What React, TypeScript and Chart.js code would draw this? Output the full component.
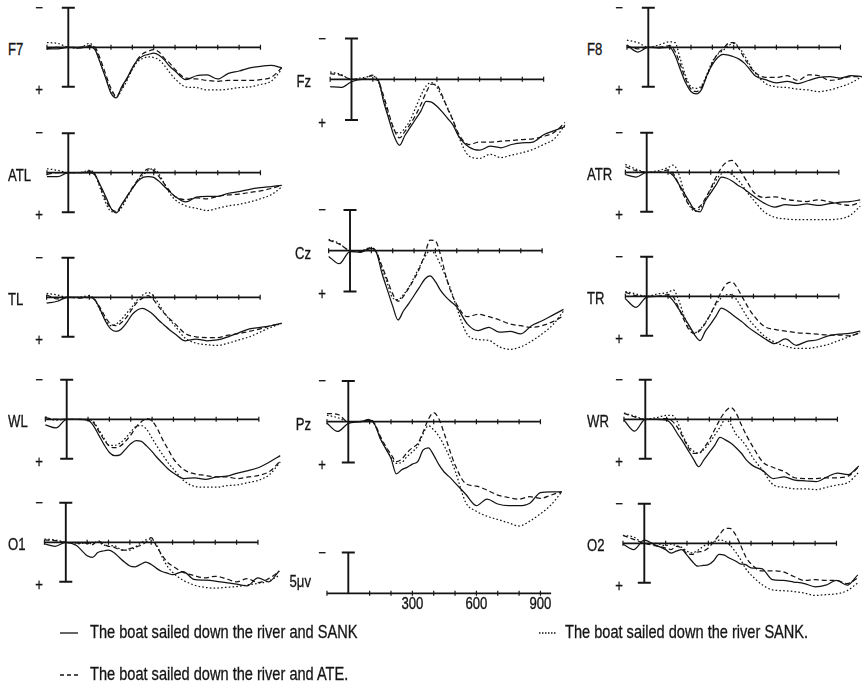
import { useEffect, useRef } from "react";
import { Chart, registerables } from "chart.js";

Chart.register(...registerables);

// Sample times (ms after word onset); denser around the early components.
const TIMES_MS = [
  -100, -50, 0, 50, 100, 125, 150, 175, 200, 225, 250, 275, 300, 325, 350, 375, 400, 425, 450, 475, 500,
  550, 600, 650, 700, 750, 800, 850, 900, 950, 1000,
];

// Axis ticks (ms) and the labelled ticks under the calibration axis.
const AXIS_TICKS_MS = [-100, 100, 200, 300, 400, 500, 600, 700, 800, 900];
const SCALE_TICK_LABELS = [300, 600, 900];
const CAL_BAR_UV = 5;

const SERIES_LABELS = [
  "The boat sailed down the river and SANK",
  "The boat sailed down the river and ATE.",
  "The boat sailed down the river SANK.",
];

// Amplitudes in µV (positive plotted downward), one value per entry of TIMES_MS.
// Left hemisphere
const F7_AND_SANK = [0.2, 0.2, 0, 0.1, -0.1, 0.3, 2.0, 3.9, 5.8, 6.4, 5.0, 3.9, 2.6, 1.6, 1.1, 0.9, 0.75, 1.0, 1.6, 2.4, 3.0, 4.1, 3.6, 3.5, 4.0, 3.3, 3.0, 2.6, 2.4, 2.3, 2.6];
const F7_AND_ATE = [0.2, 0.0, 0, 0, -0.2, 0.0, 1.5, 3.4, 5.2, 6.2, 5.2, 4.0, 2.7, 1.5, 0.8, 0.5, 0.3, 0.6, 1.4, 2.0, 2.8, 3.9, 4.0, 4.2, 4.3, 4.2, 4.2, 4.2, 4.1, 3.8, 2.6];
const F7_SANK = [-0.6, -0.5, 0, 0.1, -0.5, 0.2, 2.0, 3.8, 5.5, 6.3, 5.4, 4.2, 2.8, 1.8, 1.4, 1.2, 1.3, 1.6, 2.3, 3.2, 4.0, 5.0, 5.1, 5.4, 5.4, 5.3, 5.1, 5.0, 4.7, 4.3, 2.8];

const ATL_AND_SANK = [0.5, 0.5, 0, 0, 0, 0.3, 1.6, 3.0, 4.5, 5.1, 4.0, 3.0, 2.0, 1.1, 0.6, 0.5, 0.6, 1.1, 1.75, 2.4, 3.0, 3.7, 3.1, 3.0, 3.0, 2.6, 2.4, 2.1, 1.9, 1.75, 1.6];
const ATL_AND_ATE = [0.2, 0.0, 0, 0, -0.2, 0.2, 1.8, 3.4, 4.6, 4.9, 4.1, 3.0, 1.9, 0.9, 0.0, -0.5, -0.3, 0.5, 1.4, 2.3, 3.0, 3.4, 3.2, 3.3, 3.0, 2.8, 2.7, 2.5, 2.3, 2.0, 1.6];
const ATL_SANK = [-0.5, -0.3, 0, 0, -0.3, 0.2, 2.0, 3.8, 4.9, 5.0, 4.4, 3.2, 2.0, 1.0, 0.3, -0.3, -0.5, 0.2, 1.4, 2.6, 3.4, 4.2, 4.5, 4.8, 4.5, 4.2, 4.0, 3.7, 3.3, 2.8, 1.8];

const TL_AND_SANK = [0.75, 0.5, 0, 0, 0, 0.3, 1.5, 3.0, 4.0, 4.3, 4.0, 3.2, 2.2, 1.6, 1.4, 1.7, 2.2, 2.9, 3.5, 4.1, 4.6, 5.5, 5.3, 5.5, 5.4, 5.0, 4.5, 4.0, 3.8, 3.6, 3.3];
const TL_AND_ATE = [-0.3, 0.2, 0, 0.1, 0, 0.3, 1.3, 2.5, 3.4, 3.6, 3.2, 2.5, 1.5, 0.6, 0.1, -0.2, 0.3, 1.2, 2.0, 2.7, 3.3, 4.6, 5.0, 5.1, 5.1, 4.8, 4.6, 4.3, 4.0, 3.6, 3.3];
const TL_SANK = [-0.5, -0.3, 0, 0, -0.2, 0.3, 1.6, 2.8, 3.6, 3.4, 2.8, 2.0, 1.2, 0.3, -0.3, -0.6, -0.2, 0.8, 1.9, 2.8, 3.6, 5.2, 5.8, 6.0, 6.1, 5.8, 5.4, 5.0, 4.4, 3.8, 3.3];

const WL_AND_SANK = [0.7, 1.1, 0, 0, 0.1, 0.8, 2.0, 3.2, 4.2, 4.6, 4.5, 3.8, 3.1, 2.7, 2.8, 3.4, 4.1, 4.9, 5.6, 6.3, 6.8, 7.5, 7.4, 7.6, 7.3, 7.2, 6.8, 6.5, 6.1, 5.4, 4.6];
const WL_AND_ATE = [-0.2, 0.0, 0, 0, 0.1, 0.4, 1.5, 2.6, 3.4, 3.6, 3.4, 2.8, 2.0, 1.0, 0.3, -0.1, 0.2, 1.2, 2.6, 3.8, 5.0, 6.4, 6.9, 7.1, 7.3, 7.3, 7.5, 7.3, 7.1, 6.6, 5.3];
const WL_SANK = [-0.3, 0.1, 0, 0, 0, 0.3, 1.3, 2.4, 3.3, 3.3, 3.0, 2.4, 1.6, 0.9, 0.8, 1.3, 2.4, 3.5, 4.5, 5.5, 6.3, 7.8, 8.5, 8.6, 8.6, 8.4, 8.3, 8.0, 7.7, 7.0, 5.4];

const O1_AND_SANK = [0.2, 0.5, 0, 0.4, 1.7, 1.9, 1.3, 1.1, 1.0, 1.3, 1.9, 2.5, 3.0, 3.1, 2.8, 2.5, 2.8, 3.3, 3.7, 3.9, 4.1, 3.7, 4.7, 4.8, 4.9, 5.1, 5.3, 5.5, 4.5, 5.0, 3.6];
const O1_AND_ATE = [-0.3, -0.2, 0, 0.1, 0.1, 0.3, -0.2, 0.2, 0.5, 0.6, 0.9, 1.0, 0.8, 0.6, 0.4, 0.0, -0.6, 0.5, 1.6, 2.5, 3.0, 3.8, 4.2, 4.5, 4.3, 4.6, 5.0, 4.6, 5.1, 4.6, 3.7];
const O1_SANK = [-0.4, -0.3, 0, 0.2, 0.1, 0.2, 0.0, 0.3, 0.5, 0.4, 0.8, 1.0, 1.0, 0.6, 0.1, -0.3, -0.4, 0.3, 1.8, 3.0, 3.8, 4.8, 5.4, 5.7, 5.8, 5.7, 5.6, 5.4, 5.2, 4.9, 4.2];

// Midline
const FZ_AND_SANK = [0.9, 1.0, 0.3, 0.0, 0.0, 0.1, 2.7, 4.9, 7.0, 8.1, 6.9, 5.9, 4.9, 3.9, 2.7, 2.8, 3.3, 4.0, 4.8, 5.6, 6.9, 8.3, 8.7, 8.2, 8.4, 8.0, 7.8, 7.7, 6.8, 6.3, 5.8];
const FZ_AND_ATE = [-0.7, -0.5, 0, 0, -0.5, 0.2, 2.0, 4.2, 6.2, 7.2, 6.4, 5.5, 4.4, 3.1, 1.6, 0.6, 0.7, 2.0, 3.6, 5.0, 6.6, 8.0, 7.7, 7.7, 7.6, 7.5, 7.4, 7.3, 7.0, 6.5, 5.3];
const FZ_SANK = [-0.9, -0.6, 0, -0.2, -0.4, 0.3, 2.4, 4.5, 6.2, 6.6, 6.0, 5.0, 3.5, 2.0, 0.8, 0.4, 1.0, 2.2, 3.5, 5.0, 6.9, 9.4, 9.7, 9.2, 9.6, 9.3, 9.0, 8.6, 8.0, 7.3, 5.6];

const CZ_AND_SANK = [0.7, 1.6, 0.1, 0.2, -0.3, 0.3, 2.8, 4.8, 6.8, 8.5, 7.4, 6.5, 5.5, 4.5, 3.5, 3.1, 3.8, 4.9, 5.7, 6.3, 6.9, 9.0, 9.8, 9.4, 10.0, 9.9, 10.2, 9.2, 8.6, 7.9, 7.2];
const CZ_AND_ATE = [-1.3, -0.8, 0, 0.1, -0.4, 0.3, 1.9, 3.6, 5.3, 6.2, 5.6, 4.6, 3.5, 2.2, 0.5, -1.3, -1.2, 0.6, 3.2, 5.2, 6.6, 8.1, 7.8, 8.1, 8.5, 9.0, 9.2, 9.4, 9.2, 8.7, 8.0];
const CZ_SANK = [-1.4, -0.9, 0, 0.0, -0.4, 0.2, 2.2, 4.0, 5.8, 6.0, 5.4, 4.5, 3.3, 2.0, 0.8, 0.0, 0.5, 1.8, 3.3, 5.0, 7.0, 10.3, 10.9, 11.0, 11.8, 12.1, 11.8, 11.1, 10.2, 9.1, 7.4];

const PZ_AND_SANK = [0.2, 1.2, 0.2, 0.0, -0.2, 0.4, 2.1, 3.3, 4.5, 6.4, 5.9, 5.6, 5.2, 4.9, 3.5, 3.2, 4.1, 5.3, 6.2, 6.8, 7.5, 8.9, 10.3, 9.5, 10.1, 10.3, 10.3, 10.0, 8.7, 8.6, 8.6];
const PZ_AND_ATE = [-1.0, -0.9, 0, 0.0, -0.3, 0.3, 1.8, 3.0, 4.0, 4.9, 4.6, 3.8, 3.2, 2.7, 1.3, -0.3, -1.1, -0.3, 1.5, 3.5, 5.3, 7.6, 7.9, 8.4, 9.0, 9.3, 9.5, 9.2, 9.4, 9.0, 8.6];
const PZ_SANK = [-0.8, -0.5, 0, 0, -0.2, 0.4, 2.0, 3.2, 4.4, 5.1, 5.0, 4.3, 3.7, 3.0, 1.5, 0.5, 1.0, 1.8, 3.0, 4.4, 6.0, 9.9, 11.0, 11.6, 12.0, 12.4, 12.8, 12.2, 11.3, 10.2, 8.6];

// Right hemisphere
const F8_AND_SANK = [-0.3, 0.6, 0, 0.1, 0.0, 1.0, 2.8, 4.5, 5.6, 5.9, 5.3, 3.5, 2.2, 1.3, 0.9, 1.0, 1.2, 1.5, 2.0, 2.8, 3.6, 4.1, 4.5, 4.3, 4.6, 4.2, 3.8, 3.7, 3.9, 3.6, 3.7];
const F8_AND_ATE = [-0.2, 0.2, 0, 0, -0.2, 0.5, 2.2, 4.0, 5.3, 5.6, 5.0, 3.6, 2.0, 0.8, 0.2, -0.5, -0.6, 0.2, 1.4, 2.4, 3.2, 3.8, 3.8, 3.6, 4.2, 3.5, 3.6, 4.2, 4.0, 3.7, 3.7];
const F8_SANK = [-0.9, -0.6, 0, -0.3, -0.7, -0.6, 1.5, 3.6, 5.0, 5.2, 4.8, 3.4, 1.8, 0.9, 0.4, -0.2, -0.5, 0.0, 1.0, 2.2, 3.2, 4.6, 5.0, 5.1, 5.3, 5.4, 5.6, 5.4, 5.0, 4.5, 3.7];

const ATR_AND_SANK = [0.3, 0.6, 0, 0, 0.0, 0.45, 1.5, 2.6, 3.75, 4.8, 5.0, 3.6, 2.6, 1.6, 0.6, 0.75, 1.1, 1.6, 2.0, 2.5, 3.0, 3.9, 4.4, 4.1, 4.2, 4.0, 4.2, 4.0, 3.8, 3.7, 3.5];
const ATR_AND_ATE = [-0.7, -0.2, 0, 0, -0.3, 0.2, 1.5, 3.0, 4.2, 4.6, 4.3, 3.3, 2.0, 0.6, -0.6, -1.3, -1.5, -0.8, 0.3, 1.4, 2.5, 3.2, 3.1, 3.4, 3.6, 3.7, 3.5, 3.7, 4.0, 4.2, 3.8];
const ATR_SANK = [-1.0, -0.4, 0, -0.2, -0.6, -0.9, 0.2, 2.5, 4.2, 4.9, 4.6, 3.5, 2.2, 1.0, 0.2, -0.1, 0.3, 0.9, 1.7, 2.7, 3.5, 5.0, 5.7, 5.9, 6.0, 6.0, 6.0, 6.0, 5.9, 5.5, 4.3];

const TR_AND_SANK = [0.3, 1.4, 0.1, 0, 0, 0.6, 1.6, 2.65, 3.75, 4.9, 5.6, 4.4, 3.5, 2.5, 1.5, 1.8, 2.3, 2.8, 3.3, 3.9, 4.4, 5.3, 6.0, 5.4, 6.2, 5.7, 5.5, 5.0, 4.8, 4.7, 4.4];
const TR_AND_ATE = [-0.5, -0.1, 0, 0, -0.2, 0.1, 1.5, 3.0, 4.3, 4.7, 4.3, 3.4, 2.2, 0.8, -0.6, -1.6, -1.8, -1.0, 0.2, 1.4, 2.4, 3.8, 4.2, 4.4, 4.6, 4.7, 4.8, 4.9, 4.9, 5.0, 4.6];
const TR_SANK = [-0.6, -0.3, 0, -0.3, -0.5, -0.8, 0.5, 2.5, 4.0, 4.6, 4.2, 3.3, 2.2, 1.0, 0.2, -0.2, -0.2, 0.6, 1.7, 2.8, 3.6, 5.0, 5.8, 6.3, 6.6, 6.6, 6.4, 6.1, 5.6, 5.1, 4.6];

const WR_AND_SANK = [0.1, 1.5, 0.0, 0.0, 0.1, 0.7, 1.8, 2.8, 3.9, 5.0, 6.0, 5.1, 4.2, 3.3, 2.3, 2.6, 3.0, 3.6, 4.3, 5.2, 5.8, 6.5, 7.5, 7.3, 7.7, 7.8, 7.9, 7.3, 6.8, 7.0, 5.9];
const WR_AND_ATE = [-0.75, -0.3, 0, 0, -0.1, 0.2, 1.0, 2.2, 3.5, 4.3, 4.3, 3.6, 2.6, 1.3, 0.0, -1.0, -1.5, -0.8, 0.7, 2.1, 3.3, 5.4, 6.1, 6.6, 7.4, 7.5, 7.5, 7.4, 7.4, 7.2, 6.0];
const WR_SANK = [-0.8, -0.4, 0, -0.2, -0.5, -0.5, 0.3, 2.0, 3.3, 4.0, 4.3, 3.8, 3.0, 2.0, 1.0, 0.0, 0.6, 1.9, 2.6, 3.5, 4.7, 6.5, 8.3, 8.6, 8.8, 8.8, 8.9, 8.6, 8.3, 8.0, 6.7];

const O2_AND_SANK = [0.1, 0.8, -0.4, 0.2, 0.8, 1.25, 1.0, 0.8, 1.5, 2.3, 2.9, 2.8, 2.7, 2.2, 1.4, 1.5, 1.9, 2.2, 2.6, 2.7, 3.1, 3.2, 4.6, 4.7, 4.9, 5.1, 5.5, 5.3, 4.7, 5.3, 4.0];
const O2_AND_ATE = [-1.0, -0.5, 0, 0.3, 0.6, 0.8, 0.4, 0.6, 1.3, 1.4, 1.1, 1.0, 0.6, -0.2, -1.0, -1.8, -1.9, -1.2, 0.2, 1.7, 2.6, 3.5, 3.5, 3.6, 4.2, 4.7, 4.6, 4.7, 4.7, 5.1, 4.4];
const O2_SANK = [-1.0, -0.8, 0, 0.0, 0.3, 0.1, 0.3, 0.5, 1.0, 1.2, 0.9, 0.4, 0.0, -0.2, -0.4, -0.3, 0.2, 1.0, 2.0, 3.2, 4.0, 5.2, 5.9, 6.0, 6.1, 6.3, 6.6, 6.5, 6.4, 6.0, 5.0];

// ---- drawing setup ----
const INK = "#141414";
const FONT = '"Liberation Sans", Arial, sans-serif';
const NARROW = 0.82; // horizontal squeeze giving a narrow grotesque
const PX_PER_MS = 0.2135;
const DASHES: number[][] = [[], [5, 3], [1.6, 2.2]];

type Col = "left" | "mid" | "right";
type PanelSpec = {
  name: string;
  col: Col;
  x0: number; // page x of t = 0
  y0: number; // page y of 0 µV
  k: number; // px per µV
  series: number[][];
  calibration?: boolean;
};

const PANELS: PanelSpec[] = [
  { name: "F7", col: "left", x0: 68.3, y0: 47.3, k: 7.9, series: [F7_AND_SANK, F7_AND_ATE, F7_SANK] },
  { name: "ATL", col: "left", x0: 68.3, y0: 172.7, k: 7.9, series: [ATL_AND_SANK, ATL_AND_ATE, ATL_SANK] },
  { name: "TL", col: "left", x0: 68.0, y0: 297.3, k: 7.9, series: [TL_AND_SANK, TL_AND_ATE, TL_SANK] },
  { name: "WL", col: "left", x0: 66.7, y0: 419.3, k: 7.9, series: [WL_AND_SANK, WL_AND_ATE, WL_SANK] },
  { name: "O1", col: "left", x0: 65.8, y0: 542.3, k: 7.9, series: [O1_AND_SANK, O1_AND_ATE, O1_SANK] },
  { name: "Fz", col: "mid", x0: 351.5, y0: 79.3, k: 8.15, series: [FZ_AND_SANK, FZ_AND_ATE, FZ_SANK] },
  { name: "Cz", col: "mid", x0: 350.0, y0: 250.7, k: 8.15, series: [CZ_AND_SANK, CZ_AND_ATE, CZ_SANK] },
  { name: "Pz", col: "mid", x0: 348.3, y0: 421.7, k: 8.15, series: [PZ_AND_SANK, PZ_AND_ATE, PZ_SANK] },
  { name: "5μv", col: "mid", x0: 348.3, y0: 593.3, k: 8.15, series: [], calibration: true },
  { name: "F8", col: "right", x0: 648.3, y0: 47.3, k: 7.9, series: [F8_AND_SANK, F8_AND_ATE, F8_SANK] },
  { name: "ATR", col: "right", x0: 646.7, y0: 172.3, k: 7.9, series: [ATR_AND_SANK, ATR_AND_ATE, ATR_SANK] },
  { name: "TR", col: "right", x0: 646.7, y0: 296.3, k: 7.9, series: [TR_AND_SANK, TR_AND_ATE, TR_SANK] },
  { name: "WR", col: "right", x0: 645.3, y0: 419.3, k: 7.9, series: [WR_AND_SANK, WR_AND_ATE, WR_SANK] },
  { name: "O2", col: "right", x0: 644.3, y0: 543.3, k: 7.9, series: [O2_AND_SANK, O2_AND_ATE, O2_SANK] },
];

// Axis frame: baseline with ticks, the ±5 µV bar at stimulus onset, tick labels on the calibration panel.
const framePlugin = {
  id: "erpFrame",
  beforeDatasetsDraw(chart: any, _args: any, opts: any) {
    const { ctx } = chart;
    const xs = chart.scales.x;
    const ys = chart.scales.y;
    const yb = ys.getPixelForValue(0);
    const px = (t: number) => xs.getPixelForValue(t);
    ctx.save();
    ctx.strokeStyle = INK;
    ctx.lineCap = "butt";
    ctx.lineWidth = 1.7;
    ctx.beginPath();
    ctx.moveTo(px(-100), yb);
    ctx.lineTo(px(opts.axisEnd), yb);
    ctx.stroke();
    ctx.lineWidth = 1.2;
    ctx.beginPath();
    for (const t of AXIS_TICKS_MS) {
      ctx.moveTo(px(t), yb - 2.5);
      ctx.lineTo(px(t), yb + 2.5);
    }
    ctx.stroke();
    const x0 = px(0);
    const top = ys.getPixelForValue(-CAL_BAR_UV);
    const bot = ys.getPixelForValue(opts.calibration ? 0 : CAL_BAR_UV);
    ctx.lineWidth = 1.9;
    ctx.beginPath();
    ctx.moveTo(x0, top);
    ctx.lineTo(x0, bot);
    ctx.moveTo(x0 - 6.5, top);
    ctx.lineTo(x0 + 6.5, top);
    if (!opts.calibration) {
      ctx.moveTo(x0 - 6.5, bot);
      ctx.lineTo(x0 + 6.5, bot);
    }
    ctx.stroke();
    if (opts.calibration) {
      ctx.fillStyle = INK;
      ctx.strokeStyle = INK;
      ctx.lineWidth = 0.35;
      ctx.font = `16px ${FONT}`;
      ctx.textAlign = "center";
      ctx.textBaseline = "top";
      for (const t of SCALE_TICK_LABELS) {
        ctx.save();
        ctx.translate(px(t), yb + 3);
        ctx.scale(NARROW, 1);
        ctx.fillText(String(t), 0, 0);
        ctx.strokeText(String(t), 0, 0);
        ctx.restore();
      }
    }
    ctx.restore();
  },
};

function geometry(p: PanelSpec) {
  const uvMax = p.col === "mid" ? 14 : 10;
  const left = Math.round(p.x0 - 130 * PX_PER_MS);
  const width = Math.round(1150 * PX_PER_MS);
  const top = Math.round(p.y0 - 6.5 * p.k);
  const height = Math.round((uvMax + 6.5) * p.k);
  return {
    left,
    top,
    width,
    height,
    xMin: (left - p.x0) / PX_PER_MS,
    xMax: (left + width - p.x0) / PX_PER_MS,
    yMin: (top - p.y0) / p.k,
    yMax: (top + height - p.y0) / p.k,
  };
}

type Align = "left" | "center" | "right";
function Label({ s, x, y, size, align = "left" }: { s: string; x: number; y: number; size: number; align?: Align }) {
  return (
    <div
      style={{
        position: "absolute",
        left: align === "left" ? x : align === "center" ? x - 30 : x - 60,
        width: align === "left" ? undefined : 60,
        top: y,
        transform: `translateY(-50%) scaleX(${NARROW})`,
        transformOrigin: align === "left" ? "left center" : align === "center" ? "center center" : "right center",
        textAlign: align,
        fontFamily: FONT,
        fontSize: size,
        lineHeight: 1,
        color: INK,
        WebkitTextStroke: `0.3px ${INK}`,
        whiteSpace: "nowrap",
      }}
    >
      {s}
    </div>
  );
}

function Panel({ p }: { p: PanelSpec }) {
  const ref = useRef<HTMLCanvasElement | null>(null);
  const g = geometry(p);
  useEffect(() => {
    if (!ref.current) return;
    const chart = new Chart(ref.current, {
      type: "line",
      data: {
        datasets: p.series.map((vals, i) => ({
          label: SERIES_LABELS[i],
          data: TIMES_MS.map((t, j) => ({ x: t, y: vals[j] })),
          borderColor: INK,
          borderWidth: 1.25,
          borderDash: DASHES[i],
          pointRadius: 0,
          fill: false,
          cubicInterpolationMode: "monotone" as const,
        })),
      },
      options: {
        animation: false,
        responsive: false,
        devicePixelRatio: 1,
        events: [],
        layout: { padding: 0 },
        plugins: {
          legend: { display: false },
          tooltip: { enabled: false },
          erpFrame: { axisEnd: p.calibration ? 950 : 900, calibration: !!p.calibration },
        } as any,
        scales: {
          x: { type: "linear", display: false, min: g.xMin, max: g.xMax },
          y: { type: "linear", display: false, reverse: true, min: g.yMin, max: g.yMax },
        },
      },
      plugins: [framePlugin],
    });
    return () => chart.destroy();
  }, []);

  const signX = p.col === "left" ? 39 : p.col === "right" ? 619 : 322;
  const barTop = p.y0 - CAL_BAR_UV * p.k;
  const barBot = p.y0 + CAL_BAR_UV * p.k;

  return (
    <>
      <canvas
        ref={ref}
        width={g.width}
        height={g.height}
        style={{ position: "absolute", left: g.left, top: g.top }}
      />
      {p.col === "mid" ? (
        <Label s={p.name} x={311} y={p.calibration ? 582 : p.y0 + 3} size={16} align="right" />
      ) : (
        <Label s={p.name} x={p.col === "left" ? 8 : 587} y={p.y0 + 3} size={16} />
      )}
      <Label s="−" x={signX} y={barTop} size={16} align="center" />
      {!p.calibration && <Label s="+" x={signX} y={barBot + 3} size={16} align="center" />}
    </>
  );
}

function LegendRow({ x, y, textX, dash, label }: { x: number; y: number; textX: number; dash: number[]; label: string }) {
  return (
    <>
      <svg style={{ position: "absolute", left: x, top: y - 5 }} width={20} height={10}>
        <line
          x1={1}
          y1={5}
          x2={19}
          y2={5}
          stroke={INK}
          strokeWidth={1.3}
          strokeDasharray={dash.length ? dash.join(" ") : undefined}
        />
      </svg>
      <Label s={label} x={textX} y={y} size={17.8} />
    </>
  );
}

export default function App() {
  return (
    <div
      style={{
        position: "absolute",
        left: 0,
        top: 0,
        width: 864,
        height: 688,
        background: "#fff",
        overflow: "hidden",
      }}
    >
      {PANELS.map((p) => (
        <Panel key={p.name} p={p} />
      ))}
      <LegendRow x={59} y={633} textX={90} dash={DASHES[0]} label={SERIES_LABELS[0]} />
      <LegendRow x={59} y={675} textX={90} dash={[4, 3]} label={SERIES_LABELS[1]} />
      <LegendRow x={538} y={633} textX={565} dash={[1.5, 1.5]} label={SERIES_LABELS[2]} />
    </div>
  );
}
